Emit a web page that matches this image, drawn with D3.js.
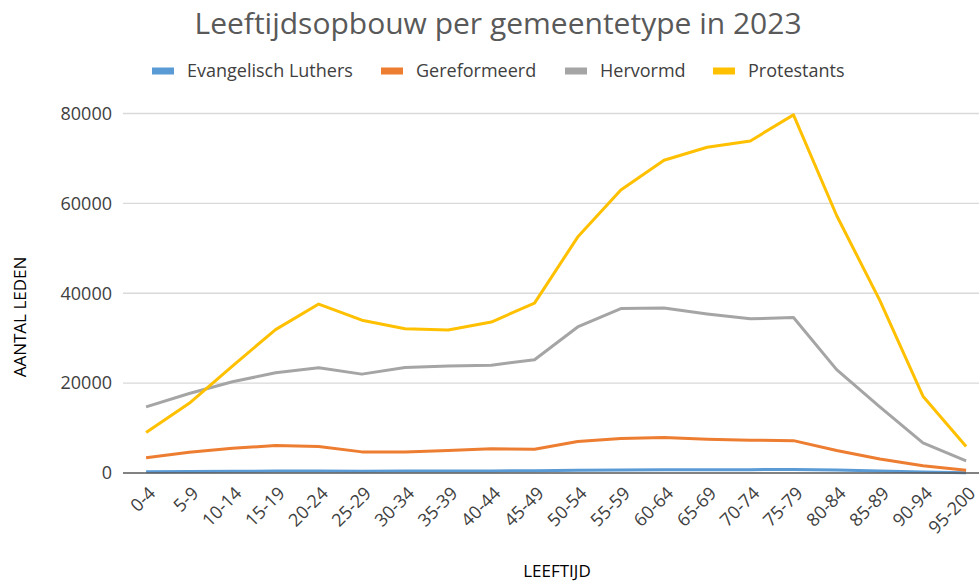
<!doctype html>
<html lang="nl">
<head>
<meta charset="UTF-8">
<title>Leeftijdsopbouw per gemeentetype in 2023</title>
<script src="https://d3js.org/d3.v7.min.js"></script>
<style>
    body { margin: 0; background: #fff; }
    text { font-family: 'Open Sans', 'Noto Sans', sans-serif; }
    .grid line { stroke: #d9d9d9; stroke-width: 1.3px; }
    .tick-label { font-size: 18px; fill: #404040; }
    .series { fill: none; stroke-width: 3px; stroke-linejoin: round; }
</style>
</head>
<body>
<script>
// leeftijdsklassen
const ages = ['0-4', '5-9', '10-14', '15-19', '20-24', '25-29', '30-34', '35-39', '40-44', '45-49',
              '50-54', '55-59', '60-64', '65-69', '70-74', '75-79', '80-84', '85-89', '90-94', '95-200'];

const evangelischLuthers = [300, 320, 380, 420, 430, 400, 420, 440, 460, 500,
                            600, 650, 700, 720, 750, 800, 650, 450, 250, 80];
const gereformeerd = [3400, 4600, 5500, 6100, 5900, 4700, 4700, 5000, 5400, 5300,
                      7000, 7700, 7900, 7500, 7300, 7200, 5000, 3100, 1600, 600];
const hervormd = [14700, 17700, 20300, 22300, 23400, 22000, 23500, 23800, 24000, 25200,
                  32500, 36600, 36700, 35400, 34300, 34600, 23000, 14700, 6700, 2700];
const protestants = [9000, 15500, 23800, 31900, 37600, 34000, 32100, 31800, 33600, 37800,
                     52500, 63000, 69600, 72500, 73900, 79700, 57300, 38400, 17100, 5900];

const seriesNames = ['Evangelisch Luthers', 'Gereformeerd', 'Hervormd', 'Protestants'];
const seriesColors = ['#5b9bd5', '#ed7d31', '#a5a5a5', '#ffc000'];
const yTicks = [0, 20000, 40000, 60000, 80000];

const series = [evangelischLuthers, gereformeerd, hervormd, protestants].map((v, i) => ({
    name: seriesNames[i], color: seriesColors[i], values: v
}));

const width = 979, height = 583;
const left = 124.5, step = 43.16;

const svg = d3.select('body').append('svg')
    .attr('width', width)
    .attr('height', height);

const x = d3.scaleBand()
    .domain(ages)
    .range([left, left + step * ages.length]);

const y = d3.scaleLinear()
    .domain([0, 80000])
    .range([473, 113.5]);

const cx = d => x(d) + x.bandwidth() / 2;

// title
svg.append('text')
    .attr('x', 498)
    .attr('y', 34)
    .attr('text-anchor', 'middle')
    .attr('font-size', '30px')
    .attr('fill', '#595959')
    .text('Leeftijdsopbouw per gemeentetype in 2023');

// legend
const legendX = [152, 381, 565, 713];
const legend = svg.selectAll('.legend')
    .data(series)
    .enter().append('g')
    .attr('class', 'legend')
    .attr('transform', (d, i) => `translate(${legendX[i]},71)`);
legend.append('rect')
    .attr('x', 0).attr('y', -3.5)
    .attr('width', 22).attr('height', 7)
    .attr('fill', d => d.color);
legend.append('text')
    .attr('x', 35)
    .attr('dy', '0.35em')
    .attr('font-size', '18px')
    .attr('fill', '#404040')
    .text(d => d.name);

// gridlines
svg.append('g')
    .attr('class', 'grid')
    .selectAll('line')
    .data(yTicks.filter(d => d > 0))
    .enter().append('line')
    .attr('x1', 123).attr('x2', width)
    .attr('y1', d => y(d)).attr('y2', d => y(d));

// y axis labels
svg.append('g')
    .selectAll('text')
    .data(yTicks)
    .enter().append('text')
    .attr('class', 'tick-label')
    .attr('x', 112)
    .attr('y', d => y(d))
    .attr('dy', '0.35em')
    .attr('text-anchor', 'end')
    .text(d => d);

// lines
const line = d3.line()
    .x((d, i) => cx(ages[i]))
    .y(d => y(d));

svg.selectAll('.series')
    .data(series)
    .enter().append('path')
    .attr('class', 'series')
    .attr('stroke', d => d.color)
    .attr('d', d => line(d.values));

// x axis line
svg.append('line')
    .attr('x1', 123).attr('x2', width)
    .attr('y1', y(0)).attr('y2', y(0))
    .attr('stroke', '#595959')
    .attr('stroke-width', 1.3);

// x tick labels (rotated)
svg.append('g')
    .selectAll('text')
    .data(ages)
    .enter().append('text')
    .attr('class', 'tick-label')
    .attr('text-anchor', 'end')
    .attr('transform', d => `translate(${cx(d) + 6},${490}) rotate(-45)`)
    .attr('dy', '0.35em')
    .text(d => d);

// axis titles
svg.append('text')
    .attr('transform', 'translate(26,317) rotate(-90)')
    .attr('text-anchor', 'middle')
    .attr('font-size', '17px')
    .attr('fill', '#000')
    .text('AANTAL LEDEN');

svg.append('text')
    .attr('x', 557)
    .attr('y', 577)
    .attr('text-anchor', 'middle')
    .attr('font-size', '17px')
    .attr('fill', '#000')
    .text('LEEFTIJD');
</script>
</body>
</html>
